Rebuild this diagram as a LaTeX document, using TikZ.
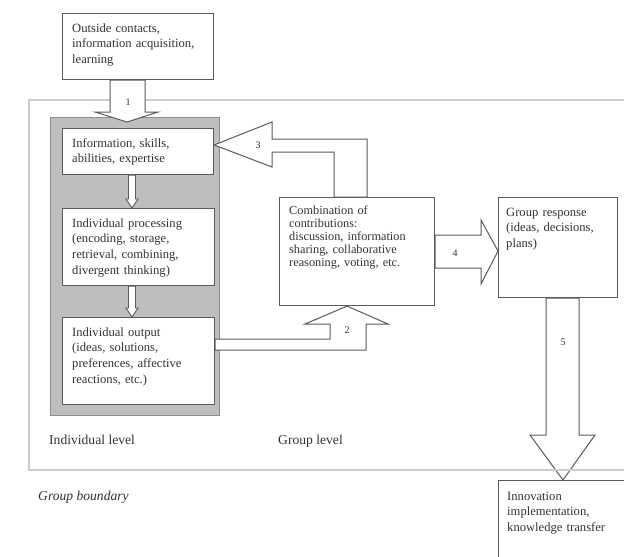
\documentclass[tikz,border=0pt]{standalone}
\usepackage{fontspec}
\setmainfont{Liberation Serif}
\definecolor{ink}{HTML}{333333}
\definecolor{edge}{HTML}{5A5A5A}
\definecolor{panel}{HTML}{BEBEBE}
\definecolor{paneledge}{HTML}{8E8E8E}
\definecolor{bound}{HTML}{CDCDCD}
\begin{document}
\begin{tikzpicture}[x=1pt,y=-1pt,
  box/.style={draw=edge, line width=1.1pt, fill=white, anchor=north west, inner sep=0pt},
  txt/.style={anchor=base west, inner sep=0pt, text width=150pt, align=left, text=ink,
              font=\fontsize{12.6}{15.8}\selectfont},
  txtc/.style={txt, font=\fontsize{12.3}{13}\selectfont},
  hollow/.style={draw=edge, line width=1pt, fill=white, line join=miter},
  num/.style={inner sep=0pt, text=ink, font=\fontsize{10}{12}\selectfont},
  lvl/.style={anchor=base west, inner sep=0pt, text=ink, font=\fontsize{13.6}{15}\selectfont}
]
\useasboundingbox (0,0) rectangle (624,557);
\fill[white] (0,0) rectangle (624,557);
\clip (0,0) rectangle (624,557);

% boxes
\node[box, minimum width=151pt, minimum height=66pt] (out) at (62,13) {};
\node[box, minimum width=155pt, minimum height=108pt] (comb) at (279,197) {};
\node[box, minimum width=119pt, minimum height=100pt] (resp) at (498,197) {};
\node[box, minimum width=150pt, minimum height=100pt] (innov) at (498,480) {};

% arrow 5 (behind the boundary)
\draw[hollow] (resp.south -| 546,0) -- (546,435) -- (530,435) -- (innov.north -| 563,0)
  -- (595,435) -- (579,435) -- (resp.south -| 579,0) -- cycle;
\node[num] (n5) at (563,342) {5};

% group boundary
\draw[bound, line width=2pt] (29,100) rectangle (660,470);

% individual level panel
\draw[paneledge, fill=panel, line width=1pt] (50,117) rectangle (219,415);
\node[box, minimum width=151pt, minimum height=46pt] (info) at (62,128) {};
\node[box, minimum width=152pt, minimum height=77pt] (proc) at (62,208) {};
\node[box, minimum width=152pt, minimum height=87pt] (outp) at (62,317) {};

% small arrows inside panel
\draw[hollow, line width=0.9pt] (info.south -| 128.5,0) -- (128.5,199) -- (126,199) -- (proc.north -| 132,0)
  -- (138,199) -- (135.5,199) -- (info.south -| 135.5,0) -- cycle;
\draw[hollow, line width=0.9pt] (proc.south -| 128.5,0) -- (128.5,308) -- (126,308) -- (outp.north -| 132,0)
  -- (138,308) -- (135.5,308) -- (proc.south -| 135.5,0) -- cycle;

% arrow 1
\draw[hollow] (out.south -| 110,0) -- (110,112) -- (95,112) -- (127,122)
  -- (158,112) -- (145,112) -- (out.south -| 145,0) -- cycle;
\node[num] (n1) at (128,102) {1};

% arrow 2
\draw[hollow] (outp.east |- 0,339) -- (330,339) -- (330,324) -- (305,324) -- (comb.south -| 347,0)
  -- (388,324) -- (366,324) -- (366,350) -- (outp.east |- 0,350) -- cycle;
\node[num] (n2) at (347,330) {2};

% arrow 3
\draw[hollow] (comb.north -| 334,0) -- (334,152) -- (272,152) -- (272,167) -- (info.east |- 0,145)
  -- (272,122) -- (272,139) -- (367,139) -- (comb.north -| 367,0) -- cycle;
\node[num] (n3) at (258,145) {3};

% arrow 4
\draw[hollow] (comb.east |- 0,235) -- (481,235) -- (481,220) -- (resp.west |- 0,251)
  -- (481,284) -- (481,268) -- (comb.east |- 0,268) -- cycle;
\node[num] (n4) at (455,253) {4};

% texts
\node[txt] (tout) at (72,32) {Outside contacts,\\information acquisition,\\learning};
\node[txt] (tinfo) at (72,147) {Information, skills,\\abilities, expertise};
\node[txt] (tproc) at (72,227) {Individual processing\\(encoding, storage,\\retrieval, combining,\\divergent thinking)};
\node[txt] (toutp) at (72,336) {Individual output\\(ideas, solutions,\\preferences, affective\\reactions, etc.)};
\node[txtc] (tcomb) at (289,214) {Combination of\\contributions:\\discussion, information\\sharing, collaborative\\reasoning, voting, etc.};
\node[txt] (tresp) at (506,216) {Group response\\(ideas, decisions,\\plans)};
\node[txt] (tinnov) at (507,500) {Innovation\\implementation,\\knowledge transfer};

\node[lvl] (lind) at (49,444) {Individual level};
\node[lvl] (lgrp) at (278,444) {Group level};
\node[lvl, font=\itshape\fontsize{13.6}{15}\selectfont] (lbnd) at (38,500) {Group boundary};
\end{tikzpicture}
\end{document}
